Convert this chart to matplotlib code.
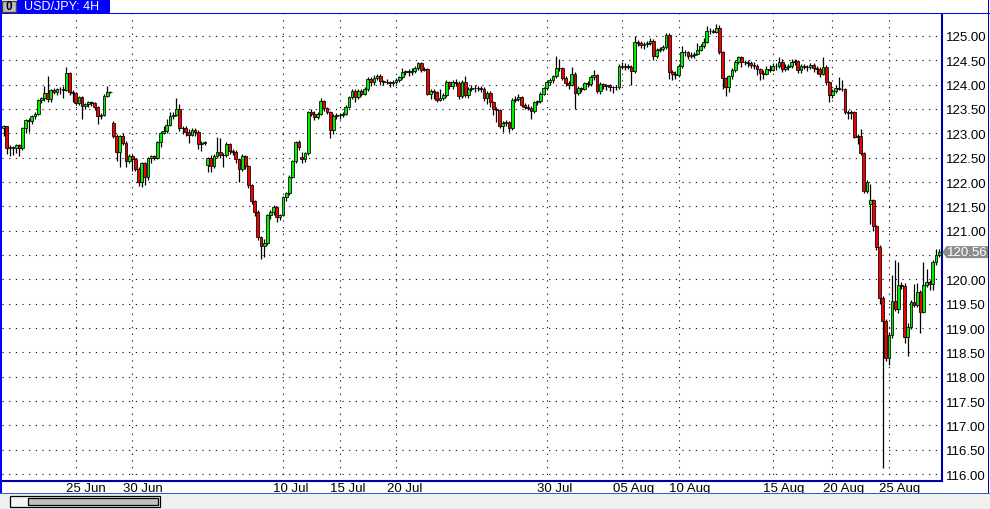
import matplotlib
matplotlib.use("Agg")
import matplotlib.pyplot as plt
import matplotlib.transforms as mtransforms
from matplotlib import font_manager
from matplotlib.patches import Rectangle, Polygon
from matplotlib.ticker import MultipleLocator, FuncFormatter

# USD/JPY 4H candles
opens = [
    123.10, 123.14, 122.69, 122.71, 122.70, 122.76, 122.70, 123.10, 123.28, 123.25,
    123.35, 123.40, 123.69, 123.72, 123.82, 123.70, 123.88, 123.84, 123.90, 123.92,
    123.88, 124.24, 123.84, 123.82, 123.62, 123.75, 123.56, 123.60, 123.64, 123.62,
    123.54, 123.36, 123.38, 123.77, 123.84, 123.21, 122.94, 122.61, 122.94, 122.80,
    122.44, 122.54, 122.47, 122.27, 122.00, 122.39, 122.10, 122.49, 122.53, 122.49,
    122.82, 123.01, 123.04, 123.17, 123.35, 123.37, 123.49, 123.10, 123.11, 123.03,
    122.97, 123.06, 123.02, 122.78, 122.80, 122.34, 122.49, 122.32, 122.54, 122.62,
    122.55, 122.55, 122.78, 122.64, 122.62, 122.47, 122.27, 122.53, 122.32, 121.93,
    121.60, 121.39, 120.87, 120.68, 120.75, 121.32, 121.38, 121.48, 121.29, 121.32,
    121.69, 121.77, 122.11, 122.43, 122.82, 122.52, 122.48, 122.59, 123.43, 123.40,
    123.34, 123.40, 123.66, 123.52, 123.43, 123.06, 123.36, 123.38, 123.37, 123.40,
    123.55, 123.74, 123.86, 123.74, 123.86, 123.81, 123.91, 124.12, 124.05, 124.14,
    124.18, 124.07, 124.05, 124.06, 124.03, 124.06, 124.10, 124.15, 124.25, 124.27,
    124.26, 124.28, 124.34, 124.44, 124.31, 124.33, 123.81, 123.86, 123.85, 123.69,
    123.72, 123.79, 124.05, 123.97, 124.06, 124.04, 123.76, 124.06, 123.79, 123.91,
    123.93, 123.94, 123.93, 123.92, 123.72, 123.82, 123.64, 123.49, 123.48, 123.15,
    123.21, 123.23, 123.10, 123.69, 123.71, 123.74, 123.58, 123.55, 123.52, 123.45,
    123.64, 123.66, 123.81, 123.93, 124.05, 124.10, 124.17, 124.34, 124.34, 124.13,
    124.03, 124.00, 124.22, 123.83, 123.93, 123.91, 124.03, 124.02, 124.15, 124.19,
    123.86, 124.01, 123.98, 123.99, 123.95, 123.95, 123.96, 124.38, 124.36, 124.38,
    124.37, 124.27, 124.87, 124.86, 124.82, 124.83, 124.86, 124.90, 124.58, 124.72,
    124.73, 124.77, 125.02, 124.25, 124.21, 124.20, 124.38, 124.66, 124.67, 124.58,
    124.60, 124.62, 124.72, 124.80, 124.88, 125.11, 125.10, 125.09, 125.16, 124.67,
    124.13, 123.95, 124.18, 124.30, 124.47, 124.56, 124.46, 124.47, 124.44, 124.40,
    124.39, 124.32, 124.24, 124.22, 124.32, 124.31, 124.38, 124.39, 124.47, 124.32,
    124.36, 124.38, 124.47, 124.49, 124.29, 124.38, 124.37, 124.36, 124.40, 124.35,
    124.33, 124.22, 124.36, 124.05, 123.79, 123.86, 123.93, 123.91, 123.90, 123.43,
    123.42, 123.43, 122.92, 122.94, 122.59, 121.81, 121.54, 121.63, 121.09, 120.66,
    119.61, 119.15, 118.38, 118.86, 119.56, 119.39, 119.89, 119.87, 118.81, 119.02,
    119.54, 119.48, 119.74, 119.33, 119.89, 119.94, 119.91, 120.35, 120.50,
]
highs = [
    123.17, 123.16, 122.75, 122.74, 122.79, 122.78, 123.12, 123.30, 123.31, 123.38,
    123.43, 123.71, 123.75, 123.97, 124.17, 123.90, 123.93, 123.93, 123.96, 123.97,
    124.36, 124.26, 123.88, 123.84, 123.77, 123.77, 123.62, 123.66, 123.67, 123.64,
    123.56, 123.42, 123.80, 123.97, 123.86, 123.25, 122.98, 122.97, 123.00, 122.84,
    122.58, 122.58, 122.50, 122.30, 122.42, 122.42, 122.52, 122.56, 122.55, 122.84,
    123.04, 123.15, 123.30, 123.44, 123.44, 123.72, 123.60, 123.16, 123.15, 123.08,
    123.10, 123.10, 123.06, 122.84, 122.84, 122.52, 122.55, 122.58, 122.92, 122.90,
    122.60, 122.82, 122.80, 122.68, 122.65, 122.50, 122.57, 122.56, 122.35, 121.96,
    121.64, 121.42, 120.90, 120.82, 121.35, 121.42, 121.52, 121.50, 121.35, 121.72,
    121.80, 122.15, 122.45, 122.84, 122.86, 122.62, 122.62, 123.46, 123.50, 123.45,
    123.43, 123.73, 123.68, 123.55, 123.46, 123.40, 123.42, 123.42, 123.44, 123.58,
    123.76, 123.90, 123.90, 123.90, 123.92, 123.96, 124.15, 124.16, 124.20, 124.22,
    124.22, 124.10, 124.12, 124.08, 124.09, 124.14, 124.18, 124.35, 124.30, 124.32,
    124.34, 124.38, 124.47, 124.46, 124.36, 124.35, 123.90, 123.90, 123.87, 123.90,
    123.82, 124.10, 124.08, 124.10, 124.12, 124.08, 124.10, 124.18, 123.95, 124.00,
    124.00, 123.98, 123.97, 123.95, 123.87, 123.86, 123.67, 123.54, 123.50, 123.26,
    123.28, 123.26, 123.72, 123.76, 123.80, 123.77, 123.62, 123.60, 123.56, 123.66,
    123.68, 123.84, 123.96, 124.08, 124.14, 124.20, 124.58, 124.52, 124.37, 124.18,
    124.08, 124.36, 124.26, 123.98, 123.96, 124.06, 124.08, 124.20, 124.30, 124.22,
    124.05, 124.04, 124.02, 124.02, 123.98, 124.00, 124.42, 124.47, 124.45, 124.42,
    124.40, 125.00, 124.92, 124.90, 124.88, 124.90, 124.95, 124.93, 124.76, 124.78,
    124.82, 125.06, 125.05, 124.30, 124.28, 124.42, 124.80, 124.72, 124.70, 124.66,
    124.66, 124.86, 124.84, 124.96, 125.20, 125.16, 125.14, 125.25, 125.22, 124.70,
    124.16, 124.20, 124.34, 124.50, 124.58, 124.58, 124.50, 124.50, 124.48, 124.46,
    124.42, 124.35, 124.30, 124.38, 124.40, 124.44, 124.45, 124.56, 124.52, 124.42,
    124.42, 124.52, 124.52, 124.51, 124.42, 124.42, 124.40, 124.45, 124.44, 124.38,
    124.36, 124.56, 124.40, 124.08, 123.90, 124.00, 124.15, 124.10, 123.93, 123.48,
    123.48, 123.46, 122.98, 123.08, 122.62, 122.05, 121.95, 121.65, 121.12, 120.70,
    119.65, 119.18, 118.92, 120.09, 120.39, 120.36, 119.94, 119.92, 119.10, 119.58,
    119.90, 119.92, 119.78, 120.35, 120.22, 119.98, 120.40, 120.62, 120.62,
]
lows = [
    122.95, 122.58, 122.54, 122.55, 122.60, 122.54, 122.66, 123.01, 123.03, 123.20,
    123.30, 123.37, 123.62, 123.66, 123.65, 123.64, 123.80, 123.78, 123.80, 123.72,
    123.86, 123.79, 123.64, 123.58, 123.58, 123.30, 123.50, 123.55, 123.57, 123.48,
    123.19, 123.30, 123.36, 123.74, 123.82, 122.90, 122.44, 122.31, 122.76, 122.31,
    122.40, 122.22, 122.22, 121.91, 121.90, 121.94, 122.05, 122.40, 122.45, 122.47,
    122.72, 122.98, 123.00, 123.14, 123.30, 123.35, 123.05, 122.98, 122.95, 122.80,
    122.94, 122.95, 122.68, 122.64, 122.76, 122.21, 122.21, 122.28, 122.50, 122.50,
    122.30, 122.52, 122.58, 122.56, 122.40, 122.00, 122.22, 122.26, 121.88, 121.55,
    121.31, 120.80, 120.42, 120.46, 120.70, 121.25, 121.33, 121.18, 121.22, 121.30,
    121.62, 121.74, 122.08, 122.40, 122.66, 122.40, 122.41, 122.56, 123.36, 123.28,
    123.30, 123.38, 123.45, 123.40, 122.91, 122.98, 123.30, 123.30, 123.33, 123.38,
    123.52, 123.70, 123.65, 123.70, 123.76, 123.78, 123.86, 123.98, 124.00, 124.10,
    124.00, 124.00, 124.01, 123.95, 123.98, 124.02, 124.06, 124.12, 124.20, 124.18,
    124.20, 124.24, 124.30, 124.26, 124.27, 123.78, 123.70, 123.70, 123.64, 123.66,
    123.68, 123.74, 123.90, 123.92, 123.98, 123.71, 123.72, 123.74, 123.72, 123.86,
    123.85, 123.86, 123.85, 123.66, 123.60, 123.55, 123.38, 123.23, 123.10, 123.02,
    123.14, 123.03, 123.06, 123.64, 123.66, 123.54, 123.50, 123.47, 123.30, 123.42,
    123.58, 123.62, 123.78, 123.88, 124.00, 124.04, 124.14, 124.28, 124.10, 123.98,
    123.92, 123.98, 123.50, 123.78, 123.85, 123.88, 123.96, 123.98, 124.10, 123.82,
    123.80, 123.92, 123.88, 123.86, 123.82, 123.88, 123.92, 124.32, 124.30, 124.33,
    124.00, 124.24, 124.80, 124.76, 124.74, 124.78, 124.82, 124.50, 124.54, 124.66,
    124.68, 124.74, 124.12, 124.10, 124.12, 124.16, 124.34, 124.58, 124.52, 124.54,
    124.55, 124.60, 124.68, 124.76, 124.85, 125.04, 125.05, 125.06, 124.62, 123.90,
    123.77, 123.85, 124.12, 124.26, 124.42, 124.36, 124.40, 124.36, 124.34, 124.32,
    124.20, 124.10, 124.12, 124.20, 124.25, 124.28, 124.30, 124.35, 124.26, 124.28,
    124.30, 124.34, 124.40, 124.24, 124.24, 124.32, 124.28, 124.32, 124.26, 124.22,
    124.16, 124.20, 124.00, 123.65, 123.72, 123.82, 123.88, 123.86, 123.40, 123.30,
    123.30, 122.90, 122.78, 122.55, 121.78, 121.78, 121.14, 121.00, 120.60, 119.50,
    116.12, 118.32, 118.24, 118.80, 119.35, 119.32, 119.80, 118.70, 118.42, 118.98,
    119.44, 119.44, 118.90, 119.30, 119.85, 119.78, 119.78, 120.30, 120.46,
]
closes = [
    123.14, 122.69, 122.71, 122.70, 122.76, 122.70, 123.10, 123.28, 123.25, 123.35,
    123.40, 123.69, 123.72, 123.82, 123.70, 123.88, 123.84, 123.90, 123.92, 123.88,
    124.24, 123.84, 123.82, 123.62, 123.75, 123.56, 123.60, 123.64, 123.62, 123.54,
    123.36, 123.38, 123.77, 123.84, 123.84, 122.94, 122.61, 122.94, 122.80, 122.44,
    122.54, 122.47, 122.27, 122.00, 122.39, 122.10, 122.49, 122.53, 122.49, 122.82,
    123.01, 123.04, 123.17, 123.35, 123.37, 123.49, 123.10, 123.11, 123.03, 122.97,
    123.06, 123.02, 122.78, 122.80, 122.82, 122.49, 122.32, 122.54, 122.62, 122.55,
    122.55, 122.78, 122.64, 122.62, 122.47, 122.27, 122.53, 122.32, 121.93, 121.60,
    121.39, 120.87, 120.68, 120.75, 121.32, 121.38, 121.48, 121.29, 121.32, 121.69,
    121.77, 122.11, 122.43, 122.82, 122.71, 122.48, 122.59, 123.43, 123.40, 123.34,
    123.40, 123.66, 123.52, 123.43, 123.06, 123.36, 123.38, 123.37, 123.40, 123.55,
    123.74, 123.86, 123.74, 123.86, 123.81, 123.91, 124.12, 124.05, 124.14, 124.18,
    124.07, 124.05, 124.06, 124.03, 124.06, 124.10, 124.15, 124.25, 124.27, 124.26,
    124.28, 124.34, 124.44, 124.31, 124.33, 123.81, 123.86, 123.85, 123.69, 123.72,
    123.79, 124.05, 123.97, 124.06, 124.04, 123.76, 124.06, 123.79, 123.91, 123.93,
    123.94, 123.93, 123.92, 123.72, 123.82, 123.64, 123.49, 123.48, 123.15, 123.21,
    123.23, 123.10, 123.69, 123.71, 123.74, 123.58, 123.55, 123.52, 123.45, 123.64,
    123.66, 123.81, 123.93, 124.05, 124.10, 124.17, 124.34, 124.34, 124.13, 124.03,
    124.00, 124.22, 123.83, 123.93, 123.91, 124.03, 124.02, 124.15, 124.19, 123.86,
    124.01, 123.98, 123.99, 123.95, 123.95, 123.96, 124.38, 124.36, 124.38, 124.37,
    124.27, 124.87, 124.86, 124.82, 124.83, 124.86, 124.90, 124.58, 124.72, 124.73,
    124.77, 125.02, 124.25, 124.21, 124.20, 124.38, 124.66, 124.67, 124.58, 124.60,
    124.62, 124.72, 124.80, 124.88, 125.11, 125.10, 125.09, 125.16, 124.67, 124.13,
    123.95, 124.18, 124.30, 124.47, 124.56, 124.46, 124.47, 124.44, 124.40, 124.39,
    124.32, 124.24, 124.22, 124.32, 124.31, 124.38, 124.39, 124.47, 124.32, 124.36,
    124.38, 124.47, 124.49, 124.29, 124.38, 124.37, 124.36, 124.40, 124.35, 124.33,
    124.22, 124.36, 124.05, 123.79, 123.86, 123.93, 123.91, 123.90, 123.43, 123.42,
    123.43, 122.92, 122.94, 122.59, 121.81, 122.01, 121.63, 121.09, 120.66, 119.61,
    119.15, 118.38, 118.86, 119.56, 119.39, 119.89, 119.87, 118.81, 119.02, 119.54,
    119.48, 119.74, 119.33, 119.89, 119.94, 119.91, 120.35, 120.50, 120.56,
]

# candle index where each date label sits
tick_idx = [23, 41, 89, 107, 125, 173, 197, 215, 245, 264, 282]
tick_labels = ["25 Jun", "30 Jun", "10 Jul", "15 Jul", "20 Jul", "30 Jul",
               "05 Aug", "10 Aug", "15 Aug", "20 Aug", "25 Aug"]

W, H = 990, 510
BLUE = "#0000ff"
NAVY = "#0000a8"

names = {f.name for f in font_manager.fontManager.ttflist}
FONT = "Liberation Sans Narrow" if "Liberation Sans Narrow" in names else "Liberation Sans"
plt.rcParams["font.family"] = [FONT, "DejaVu Sans"]


def fbox(x, y, w, h):
    # pixel box (top-left origin) -> figure fraction
    return (x / W, 1 - (y + h) / H), w / W, h / H


fig = plt.figure(figsize=(W / 100, H / 100), dpi=100)
fig.patch.set_facecolor("white")

ax = fig.add_axes([2 / W, 1 - 482 / H, 940 / W, 467 / H])

xs = list(range(len(closes)))
colors = ["#00f000" if c >= o else "#f00000" for o, c in zip(opens, closes)]
bottoms = [min(o, c) for o, c in zip(opens, closes)]
heights = [abs(c - o) for o, c in zip(opens, closes)]

ax.vlines(xs, lows, highs, color="black", linewidth=0.9, zorder=2)
ax.bar(xs, heights, bottom=bottoms, width=0.9, color=colors,
       edgecolor="black", linewidth=0.55, zorder=3)

ax.set_xlim(-0.5, 298.9)
ax.set_ylim(115.86, 125.45)

last = closes[-1]


def price_fmt(v, pos):
    # the last-price tag covers the nearest level label
    return "" if abs(v - last) < 0.2 else f"{v:.2f}"


ax.yaxis.tick_right()
ax.yaxis.set_major_locator(MultipleLocator(0.5))
ax.yaxis.set_major_formatter(FuncFormatter(price_fmt))
ax.tick_params(axis="y", length=0, pad=3, labelsize=9.5, colors="black")
ax.set_xticks(tick_idx)
ax.set_xticklabels([])
ax.tick_params(axis="x", length=0)
ax.set_axisbelow(True)
ax.grid(True, color="black", linestyle=(0, (1, 5)), linewidth=0.8)

for side in ("top", "left"):
    ax.spines[side].set_visible(False)
for side in ("right", "bottom"):
    ax.spines[side].set_color(NAVY)
    ax.spines[side].set_linewidth(1.5)

for i, lab in zip(tick_idx, tick_labels):
    ax.annotate(lab, xy=(i, 0), xycoords=ax.get_xaxis_transform(),
                xytext=(-9.5, -1), textcoords="offset pixels",
                ha="left", va="top", fontsize=9.5, annotation_clip=False)

# last price marker on the right axis
span = ax.get_ylim()[1] - ax.get_ylim()[0]
dy = 6 * span / 467
tr = mtransforms.blended_transform_factory(ax.transAxes, ax.transData)
x0 = (942.5 - 2) / 940
x1 = (946.5 - 2) / 940
x2 = (988 - 2) / 940
ax.add_patch(Polygon([(x0, last), (x1, last + dy), (x2, last + dy),
                      (x2, last - dy), (x1, last - dy)], closed=True,
                     facecolor="#8c8c8c", edgecolor="none", transform=tr,
                     clip_on=False, zorder=10))
ax.annotate(f"{last:.2f}", xy=(1, last), xycoords=tr, xytext=(5, 0),
            textcoords="offset pixels", ha="left", va="center",
            color="white", fontsize=9.5, zorder=11, annotation_clip=False)

# window chrome
for (x, y, w, h), fc in [((0, 13.5, 990, 1.5), BLUE),
                         ((17, 0, 93, 14), BLUE),
                         ((0, 0, 1.5, 495), BLUE),
                         ((988, 0, 1.2, 495), NAVY),
                         ((0, 495, 990, 15), "#f0f0f0"),
                         ((0, 494, 990, 1.2), "#3060c0")]:
    xy, ww, hh = fbox(x, y, w, h)
    fig.patches.append(Rectangle(xy, ww, hh, transform=fig.transFigure,
                                 facecolor=fc, edgecolor="none", zorder=1))

xy, ww, hh = fbox(2, 2, 13.5, 10.5)
fig.patches.append(Rectangle(xy, ww, hh, transform=fig.transFigure,
                             facecolor="#c0c0c0", edgecolor="#404040",
                             linewidth=1, zorder=2))
fig.text(8.7 / W, 1 - 7.3 / H, "0", ha="center", va="center",
         fontsize=8.5, fontweight="bold", color="black")
fig.text(24 / W, 1 - 7.3 / H, "USD/JPY: 4H", ha="left", va="center",
         fontsize=9, color="white")

xy, ww, hh = fbox(10, 497, 150, 10.5)
fig.patches.append(Rectangle(xy, ww, hh, transform=fig.transFigure,
                             facecolor="#f4f4f4", edgecolor="black",
                             linewidth=0.9, zorder=2))
xy, ww, hh = fbox(28, 499, 130, 6.5)
fig.patches.append(Rectangle(xy, ww, hh, transform=fig.transFigure,
                             facecolor="#c0c0c0", edgecolor="black",
                             linewidth=0.9, zorder=3))

fig.savefig("out.png", dpi=100, facecolor="white")
